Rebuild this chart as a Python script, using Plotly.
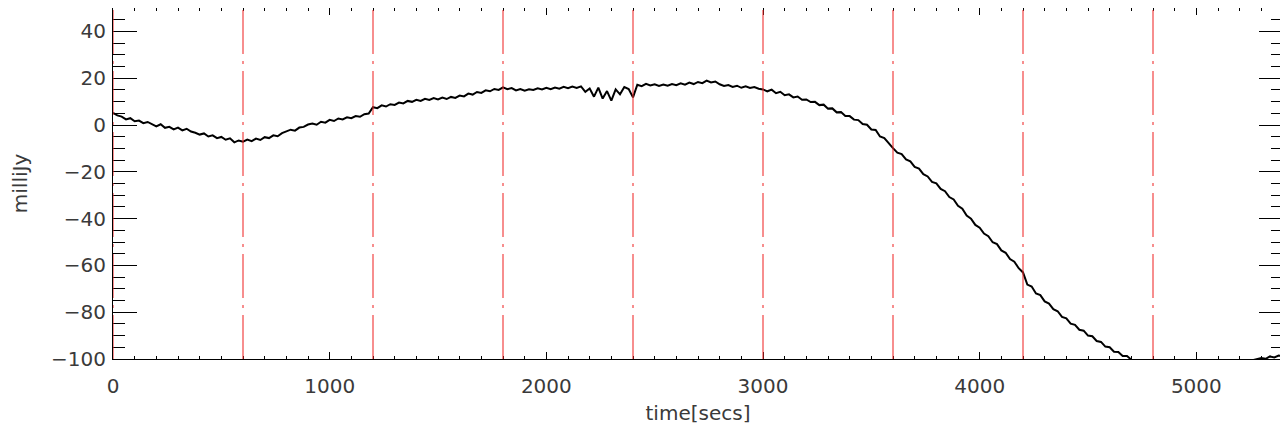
import plotly.graph_objects as go

# ---- data ----
t_start = 0
t_step = 20
flux_mjy = [
    # 0-180
    5.2, 4.1, 3.6, 2.4, 2.9, 1.6, 1.9, 0.8, 1.3, 0.2,
    # 200-380
    -0.6, 0.3, -1.2, -0.8, -1.9, -1.1, -2.3, -1.6, -2.8, -3.3,
    # 400-580
    -4.1, -3.6, -4.9, -4.4, -5.6, -5.1, -6.3, -5.7, -7.4, -6.6,
    # 600-780
    -7.1, -6.2, -6.9, -5.8, -6.4, -5.2, -5.6, -4.4, -4.8, -3.5,
    # 800-980
    -2.9, -2.0, -2.4, -1.1, -0.8, 0.2, 0.6, 0.1, 1.4, 1.0,
    # 1000-1180
    2.2, 1.7, 2.8, 2.4, 3.3, 2.9, 3.8, 3.5, 4.6, 4.9,
    # 1200-1380
    7.6, 7.2, 8.4, 7.9, 8.9, 8.6, 9.6, 9.2, 10.3, 9.9,
    # 1400-1580
    10.8, 10.3, 11.2, 10.7, 11.5, 10.9, 11.7, 11.1, 12.0, 11.6,
    # 1600-1780
    12.6, 12.2, 13.4, 13.0, 14.1, 13.7, 14.8, 14.4, 15.4, 15.0,
    # 1800-1980
    16.1, 15.3, 15.8, 14.8, 15.4, 14.7, 15.3, 15.0, 15.7, 15.2,
    # 2000-2180
    15.9, 15.3, 16.0, 15.5, 16.3, 15.7, 16.4, 15.8, 16.5, 14.2,
    # 2200-2380
    15.6, 12.1, 16.0, 11.3, 14.5, 10.4, 15.2, 13.1, 16.2, 15.4,
    # 2400-2580
    11.8, 17.2, 16.6, 17.6, 16.9, 17.4, 16.7, 17.3, 16.8, 17.5,
    # 2600-2780
    17.0, 17.8, 17.2, 18.1, 17.5, 18.4, 17.9, 19.0, 18.2, 18.6,
    # 2800-2980
    17.4, 16.7, 17.1, 16.3, 16.8, 15.9, 16.5, 15.8, 16.2, 15.5,
    # 3000-3180
    15.2, 14.4, 15.1, 13.6, 14.2, 12.7, 13.1, 11.8, 12.2, 10.8,
    # 3200-3380
    10.9, 9.8, 9.9, 8.5, 8.7, 7.0, 7.1, 5.4, 5.5, 3.8,
    # 3400-3580
    3.8, 2.3, 2.1, 0.4, 0.1, -1.9, -2.1, -4.9, -5.6, -7.9,
    # 3600-3780
    -9.9, -11.8, -12.4, -14.7, -15.5, -17.9, -18.6, -21.0, -22.0, -24.3,
    # 3800-3980
    -24.9, -27.3, -28.3, -30.8, -31.8, -34.5, -35.8, -38.7, -40.0, -42.7,
    # 4000-4180
    -43.9, -46.4, -47.5, -50.1, -50.9, -53.6, -54.6, -57.3, -58.4, -61.2,
    # 4200-4380
    -63.0, -68.2, -69.0, -72.0, -72.7, -75.4, -76.3, -78.7, -79.6, -82.0,
    # 4400-4580
    -82.6, -84.9, -85.4, -87.5, -87.9, -90.0, -90.3, -92.3, -92.7, -94.7,
    # 4600-4780
    -95.0, -96.9, -97.0, -98.7, -98.7, -100.3, -100.5, -101.9, -102.2, -103.6,
    # 4800-4980
    -104.1, -104.9, -105.6, -106.2, -106.8, -107.3, -107.7, -108.0, -108.2, -108.3,
    # 5000-5180
    -108.2, -108.0, -107.6, -107.1, -106.5, -105.8, -105.0, -104.1, -103.3, -102.5,
    # 5200-5380
    -101.9, -101.4, -101.0, -100.6, -100.3, -99.6, -99.9, -98.9, -99.3, -98.5,
    # 5400
    -98.8,
]
time_secs = [t_start + i * t_step for i in range(len(flux_mjy))]

segment_marks = [0, 600, 1200, 1800, 2400, 3000, 3600, 4200, 4800]

x_range = [0, 5400]
y_range = [-100, 50]

# ---- figure ----
fig = go.Figure()
fig.add_trace(go.Scatter(
    x=time_secs, y=flux_mjy, mode="lines",
    line=dict(color="black", width=2),
    showlegend=False, hoverinfo="skip",
))

for xm in segment_marks:
    fig.add_vline(x=xm, line=dict(color="rgba(240,40,40,0.7)", width=1.5,
                                  dash="44px,7px,3px,7px"))

font = dict(family="DejaVu Sans", size=20, color="#3a3a3a")

fig.update_layout(
    width=1288, height=430,
    margin=dict(l=105, r=13, t=0, b=79, autoexpand=False),
    paper_bgcolor="white", plot_bgcolor="white",
    font=font,
    xaxis=dict(
        range=x_range, dtick=1000, tick0=0,
        ticks="inside", ticklen=7, tickcolor="black", tickwidth=1,
        mirror="allticks", showline=True, linecolor="black", linewidth=1,
        showgrid=False, zeroline=False, automargin=False,
        ticklabelstandoff=9,
        minor=dict(dtick=100, ticks="inside", ticklen=3, tickcolor="black", showgrid=False),
        title=dict(text="time[secs]", font=font, standoff=8),
        tickfont=font,
    ),
    yaxis=dict(
        range=y_range, dtick=20, tick0=0,
        ticks="inside", ticklen=24, tickcolor="black", tickwidth=1,
        mirror="allticks", showline=True, linecolor="black", linewidth=1,
        showgrid=False, zeroline=False, automargin=False,
        ticklabelstandoff=2,
        minor=dict(dtick=5, ticks="inside", ticklen=12, tickcolor="black", showgrid=False),
        title=dict(text="milliJy", font=font, standoff=22),
        tickfont=font,
    ),
)

fig.write_html("out.html")
